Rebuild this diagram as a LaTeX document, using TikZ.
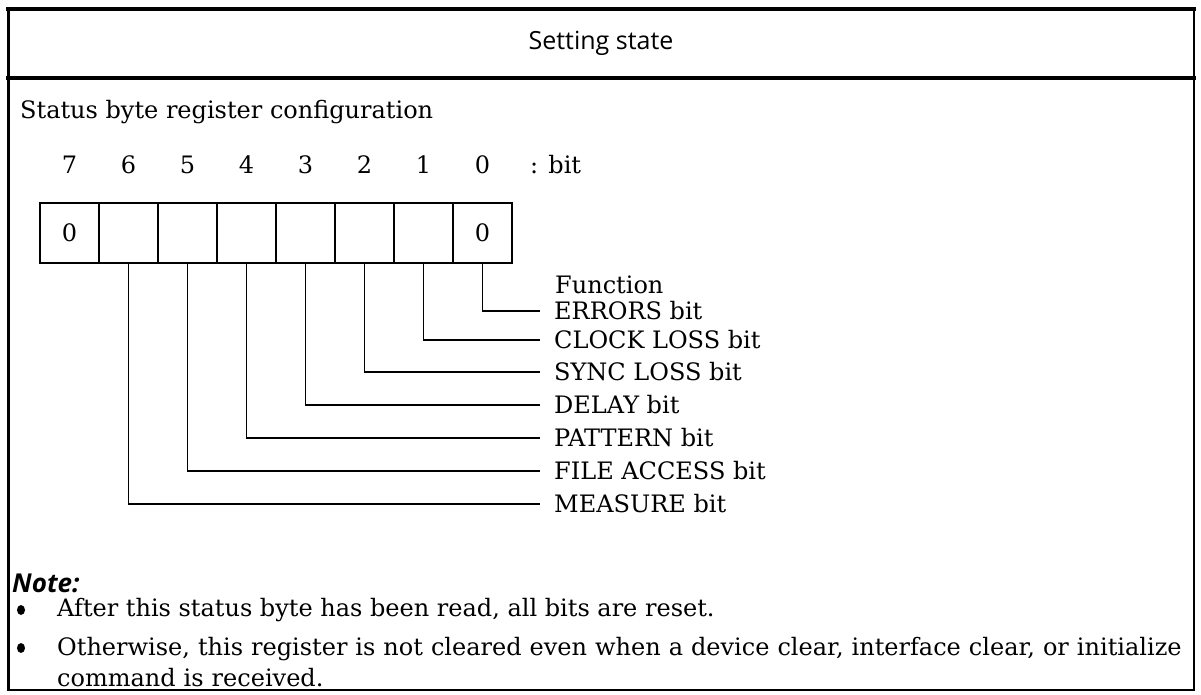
\documentclass[tikz,border=0pt]{standalone}
\usepackage{fontspec}
\usetikzlibrary{shapes.geometric}
\setmainfont{DejaVu Serif}
\setsansfont{Open Sans}
\begin{document}
\begin{tikzpicture}[x=1pt,y=-1pt,
  body/.style={font=\fontsize{24}{28}\selectfont, inner sep=0pt},
  bitbox/.style={draw, line width=1.8pt, minimum width=59pt, minimum height=60pt, inner sep=0pt},
  bitnum/.style={body, anchor=center},
  fname/.style={body, anchor=west, inner xsep=14pt, inner ysep=0pt},
  wire/.style={line width=1.8pt},
  bullet/.style={fill=black, draw=none, ellipse, inner sep=0pt, minimum width=8pt, minimum height=10pt},
]
\useasboundingbox (0,0) rectangle (1201,695);

% outer frame and title band
\draw[line width=2pt] (8,8) rectangle (1194,690);
\draw[line width=3.5pt] (6,9) -- (1196,9);
\draw[line width=3.5pt] (6,78) -- (1196,78);
\draw[line width=3pt] (8,8) -- (8,690);
\node[font=\sffamily\fontsize{25}{30}\selectfont] (title) at (601,43) {Setting state};

% heading
\node[body, anchor=base west] (head) at (20,119) {Status byte register configuration};

% register cells, bit 7 on the left
\foreach \b [count=\i from 0] in {7,6,5,4,3,2,1,0} {
  \node[bitbox] (b\b) at (69.5+59*\i,233) {};
  \node[bitnum] (n\b) at (69.5+59*\i,165) {\b};
}
\node[body, anchor=base] (z7) at (b7.center |- 0,241) {0};
\node[body, anchor=base] (z0) at (b0.center |- 0,241) {0};
\node[body, anchor=west] (unit) at (530,165) {: bit};

% function labels
\node[body, anchor=west] (func) at (555,285) {Function};
\node[fname] (f0) at (540,311) {ERRORS bit};
\node[fname] (f1) at (540,340) {CLOCK LOSS bit};
\node[fname] (f2) at (540,372) {SYNC LOSS bit};
\node[fname] (f3) at (540,405) {DELAY bit};
\node[fname] (f4) at (540,438) {PATTERN bit};
\node[fname] (f5) at (540,471) {FILE ACCESS bit};
\node[fname] (f6) at (540,504) {MEASURE bit};

\foreach \b in {0,...,6} {
  \draw[wire] (b\b.south) |- (f\b.west);
}

% notes
\node[font=\sffamily\bfseries\itshape\fontsize{26}{30}\selectfont, anchor=west, inner sep=0pt] (note) at (12,583) {Note:};
\node[bullet] (d1) at (21,610) {};
\node[body, anchor=west] (t1) at (57,610) {After this status byte has been read, all bits are reset.};
\node[bullet] (d2) at (21,648) {};
\node[body, anchor=north west, align=left, text width=1130pt] (t2) at (57,637)
  {Otherwise, this register is not cleared even when a device clear, interface clear, or initialize\\[3pt]command is received.};
\end{tikzpicture}
\end{document}
